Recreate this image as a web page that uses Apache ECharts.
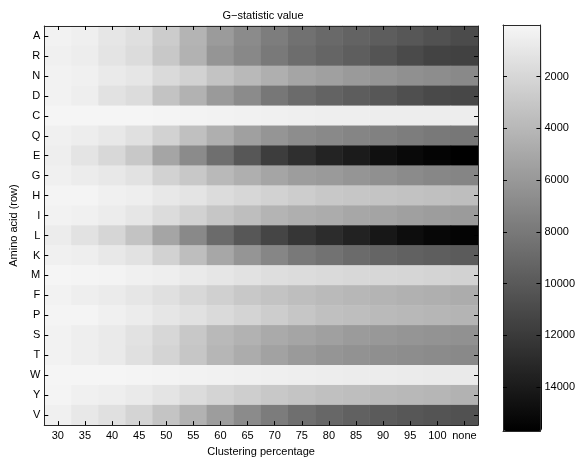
<!DOCTYPE html>
<html><head><meta charset="utf-8">
<script src="https://cdn.jsdelivr.net/npm/echarts@6/dist/echarts.min.js"></script>
<style>html,body{margin:0;padding:0;background:#fff;overflow:hidden}
.c{width:578px;height:462px;position:absolute;left:0;top:0}</style>
</head><body><div class="c" id="c0"></div>
<script>
const clustering = ['30','35','40','45','50','55','60','65','70','75','80','85','90','95','100','none'];
const aminoAcids = ['A','R','N','D','C','Q','E','G','H','I','L','K','M','F','P','S','T','W','Y','V'];

const rowA = [260,450,1030,1480,2700,4240,5780,6810,7700,8470,8990,9370,9760,10140,10530,10910];
const rowR = [390,580,1160,1670,2950,4370,6160,7000,7960,8730,9250,9690,10340,10980,11430,11560];
const rowN = [260,390,770,1030,1800,2310,3270,3920,4560,5200,5520,5840,6160,6480,6680,6930];
const rowD = [260,510,1280,1670,3270,4370,5840,6810,8090,8860,9370,9760,10140,10660,11040,11170];
const rowC = [60,70,80,90,120,190,260,320,390,450,510,520,580,590,600,600];
const rowQ = [390,580,900,1410,2310,3470,4560,5520,6160,6680,6930,7190,7450,7700,7960,8090];
const rowE = [510,1160,1930,2950,5200,6810,8600,10140,11810,12710,13480,14000,14650,15100,15450,15700];
const rowG = [390,640,900,1280,2310,2950,3920,4560,5200,5650,5840,6160,6480,6810,7060,7190];
const rowH = [130,150,390,510,900,1160,1670,1990,2310,2630,2950,3080,3210,3340,3470,3600];
const rowI = [260,390,640,1030,1670,2310,3080,3600,4240,4560,4750,5010,5260,5520,5650,5780];
const rowL = [640,1280,2050,3270,5200,6930,8860,10140,11300,12260,12900,13550,14250,14850,15250,15450];
const rowK = [390,510,900,1280,2310,3600,5010,6160,7130,7960,8410,8860,9240,9500,9690,9890];
const rowM = [60,100,190,390,510,770,1030,1280,1540,1670,1800,1930,1990,2050,2180,2310];
const rowF = [260,510,710,1030,1410,1930,2440,2950,3270,3600,3850,4040,4240,4430,4560,4750];
const rowP = [130,140,390,640,1030,1350,1800,2180,2630,3080,3470,3600,3850,3980,4110,4240];
const rowS = [260,510,770,1280,1990,2950,3920,4370,4880,5200,5520,5780,6030,6160,6290,6420];
const rowT = [260,510,770,1410,2180,3080,4110,4750,5390,5840,6160,6360,6550,6680,6810,6930];
const rowW = [50,60,90,130,190,260,320,390,450,510,580,640,650,710,770,780];
const rowY = [130,390,510,770,1160,1670,2180,2570,2950,3210,3470,3600,3850,3980,4110,4370];
const rowV = [390,900,1410,2180,3210,4370,5650,6810,7770,8600,9120,9500,9890,10140,10340,10530];

const colorbarTicks = [2000,4000,6000,8000,10000,12000,14000];
const colorMin = 0;
const colorMax = 15700;

const rows = [rowA,rowR,rowN,rowD,rowC,rowQ,rowE,rowG,rowH,rowI,rowL,rowK,rowM,rowF,rowP,rowS,rowT,rowW,rowY,rowV];
const cells = [];
rows.forEach((r, yi) => r.forEach((v, xi) => cells.push({value:[xi, yi, v]})));

const FONT = 'Liberation Sans, Arial, sans-serif';
const lineCol = '#2a2a2a';
const txt = {color:'#000', fontFamily:FONT, fontSize:11};
const tickStyle = {color:'#000', width:1};

const chart = echarts.init(document.getElementById('c0'));
chart.setOption({
  animation:false,
  title:{text:'G\u2212statistic value', left:258, textAlign:'center', top:5,
    textStyle:{fontFamily:FONT, fontSize:11, fontWeight:'normal', color:'#000'}},
  grid:[
    {left:38, top:26, width:440, height:405},
    {left:503, top:25, width:39, height:406}
  ],
  xAxis:[
    {type:'category', gridIndex:0, data:clustering, position:'bottom',
     name:'Clustering percentage', nameLocation:'middle', nameGap:19, nameTextStyle:txt,
     axisLine:{show:true, onZero:false, lineStyle:{color:lineCol}},
     axisTick:{show:true, inside:true, alignWithLabel:true, interval:0, length:4, lineStyle:tickStyle},
     axisLabel:Object.assign({interval:0, margin:5}, txt), z:10},
    {type:'category', gridIndex:0, data:clustering, position:'top',
     axisLine:{show:true, onZero:false, lineStyle:{color:lineCol}},
     axisTick:{show:true, inside:true, alignWithLabel:true, interval:0, length:4, lineStyle:tickStyle},
     axisLabel:{show:false}, z:10},
    {type:'category', gridIndex:1, data:[''], position:'bottom',
     axisLine:{show:true, onZero:false, lineStyle:{color:lineCol}}, axisTick:{show:false}, axisLabel:{show:false}, z:10},
    {type:'category', gridIndex:1, data:[''], position:'top',
     axisLine:{show:true, onZero:false, lineStyle:{color:lineCol}}, axisTick:{show:false}, axisLabel:{show:false}, z:10}
  ],
  yAxis:[
    {type:'category', gridIndex:0, data:aminoAcids, inverse:true, position:'left',
     name:'Amino acid (row)', nameLocation:'middle', nameGap:20, nameTextStyle:txt,
     axisLine:{show:true, onZero:false, lineStyle:{color:lineCol}},
     axisTick:{show:true, inside:true, alignWithLabel:true, interval:0, length:4, lineStyle:tickStyle},
     axisLabel:Object.assign({interval:0, margin:4}, txt), z:10},
    {type:'category', gridIndex:0, data:aminoAcids, inverse:true, position:'right',
     axisLine:{show:true, onZero:false, lineStyle:{color:lineCol}},
     axisTick:{show:true, inside:true, alignWithLabel:true, interval:0, length:4, lineStyle:tickStyle},
     axisLabel:{show:false}, z:10},
    {type:'value', gridIndex:1, min:colorMin, max:colorMax, inverse:true, position:'right',
     axisLine:{show:true, onZero:false, lineStyle:{color:lineCol}},
     axisTick:{show:true, inside:true, length:4, customValues:colorbarTicks, lineStyle:tickStyle},
     axisLabel:Object.assign({margin:4, customValues:colorbarTicks, formatter:v => String(v)}, txt),
     splitLine:{show:false}, z:10},
    {type:'value', gridIndex:1, min:colorMin, max:colorMax, inverse:true, position:'left',
     axisLine:{show:true, onZero:false, lineStyle:{color:lineCol}},
     axisTick:{show:true, inside:true, length:4, customValues:colorbarTicks, lineStyle:tickStyle},
     axisLabel:{show:false}, splitLine:{show:false}, z:10}
  ],
  visualMap:{
    type:'continuous', min:colorMin, max:colorMax, inverse:true, calculable:false,
    orient:'vertical', left:503, top:25, itemWidth:39, itemHeight:406, padding:0,
    seriesIndex:0,
    inRange:{color:['#f6f6f6','#000000']}
  },
  series:[{
    type:'heatmap', xAxisIndex:0, yAxisIndex:0, data:cells,
    progressive:0, progressiveThreshold:100000
  }]
});
</script>
</body></html>
